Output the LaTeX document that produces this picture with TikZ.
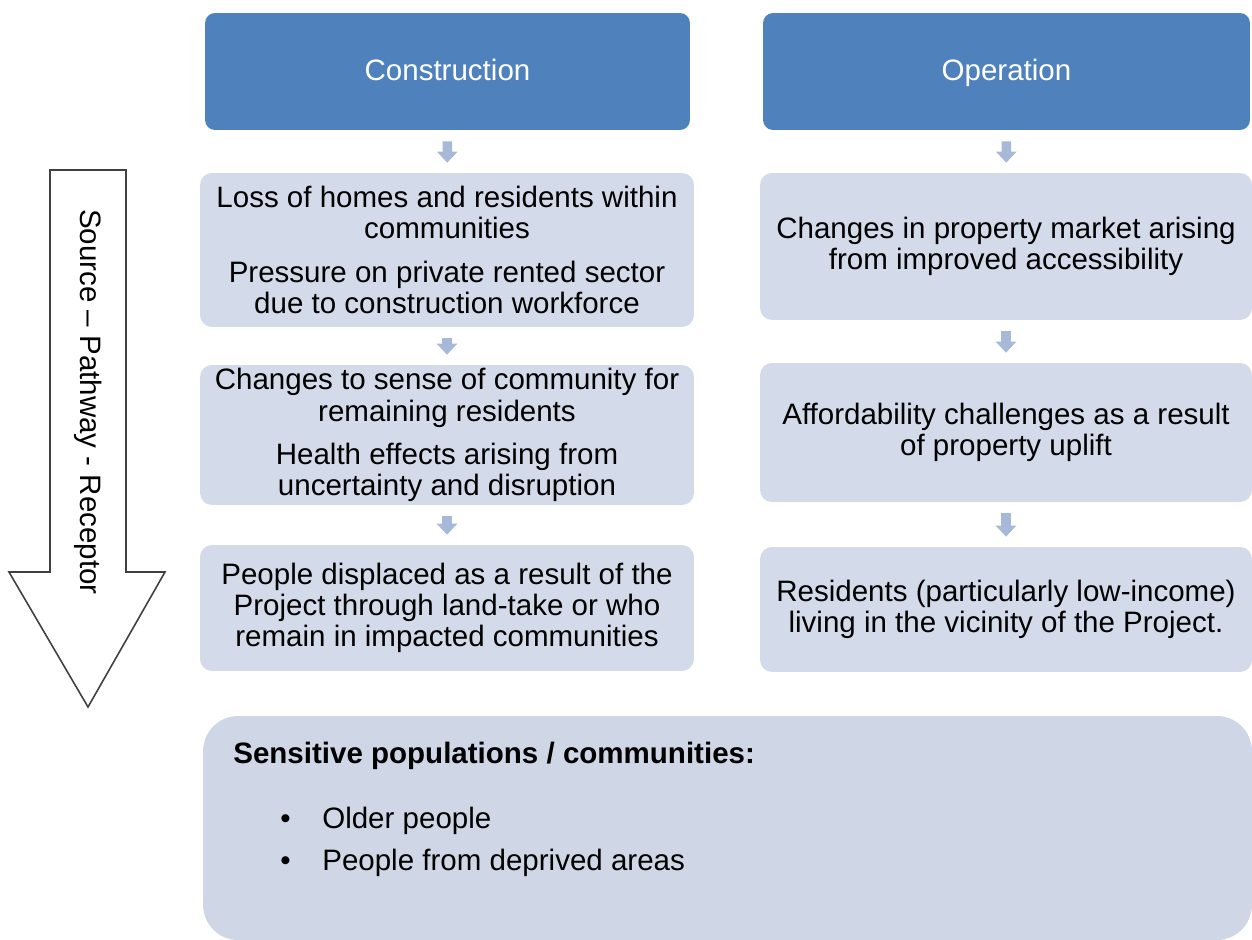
\documentclass[tikz,border=0pt]{standalone}
\usepackage{fontspec}
\setmainfont{Liberation Sans}
\usepackage{tikz}
\usetikzlibrary{arrows.meta,shapes,positioning}
\definecolor{hdrblue}{HTML}{4F81BD}
\definecolor{boxgrey}{HTML}{D3DAE9}
\definecolor{basegrey}{HTML}{CFD6E6}
\definecolor{linkblue}{HTML}{A7B9D8}
\newcommand{\boxfont}{\fontsize{16.8}{17.8}\selectfont}

\begin{document}
\begin{tikzpicture}[x=0.02cm,y=-0.02cm]
    \tikzset{header/.style = {shape=rectangle,fill=hdrblue,rounded corners=0.2cm,text=white,
        minimum height=2.34cm,text height=1em,text depth=0pt,font=\boxfont}}
    \tikzset{effect/.style = {shape=rectangle,fill=boxgrey,rounded corners=0.24cm,
        align=center,inner sep=0pt,font=\boxfont}}
    \tikzset{link/.style = {-{Triangle[width=0.4cm,length=0.22cm]},draw=linkblue,
        line width=0.19cm,shorten <=0.22cm,shorten >=0.2cm}}
    \useasboundingbox (0,0) rectangle (1252,940);
    % phase headers
    \node[header,minimum width=9.7cm] (con) at (447.5,71.5) {Construction};
    \node[header,minimum width=9.74cm] (op) at (1006.5,71.5) {Operation};
    % construction column
    \node[effect,minimum width=9.88cm,minimum height=3.08cm] (c1) at (447,250)
        {Loss of homes and residents within\\ communities\\[6.8pt]
         Pressure on private rented sector\\ due to construction workforce};
    \node[effect,minimum width=9.88cm,minimum height=2.8cm] (c2) at (447,435)
        {Changes to sense of community for\\ remaining residents\\[6.8pt]
         Health effects arising from\\ uncertainty and disruption};
    \node[effect,minimum width=9.88cm,minimum height=2.52cm] (c3) at (447,608)
        {People displaced as a result of the\\ Project through land-take or who\\ remain in impacted communities};
    % operation column
    \node[effect,minimum width=9.84cm,minimum height=2.94cm] (o1) at (1006,246.5)
        {Changes in property market arising\\ from improved accessibility};
    \node[effect,minimum width=9.84cm,minimum height=2.78cm] (o2) at (1006,432.5)
        {Affordability challenges as a result\\ of property uplift};
    \node[effect,minimum width=9.84cm,minimum height=2.5cm] (o3) at (1006,609.5)
        {Residents (particularly low-income)\\ living in the vicinity of the Project.};
    % receptors
    \node[fill=basegrey,rounded corners=0.7cm,minimum width=20.98cm,minimum height=4.48cm,
        inner sep=0pt] (base) at (727.5,828) {};
    \node[anchor=north west,align=left,inner sep=0pt,font=\boxfont] (sens) at (233,742)
        {\textbf{Sensitive populations / communities:}\\[19pt]
         \hspace*{0.94cm}\makebox[0.84cm][l]{\textbullet}Older people\\[6pt]
         \hspace*{0.94cm}\makebox[0.84cm][l]{\textbullet}People from deprived areas};
    % links
    \draw[link] (con) -- (c1);
    \draw[link] (c1) -- (c2);
    \draw[link] (c2) -- (c3);
    \draw[link] (op) -- (o1);
    \draw[link] (o1) -- (o2);
    \draw[link] (o2) -- (o3);
    % source - pathway - receptor arrow
    \draw[draw=black!75,line width=0.9pt,fill=white]
        (50,170) -- (126,170) -- (126,572) -- (165,572) -- (88,707)
        -- (9,572) -- (50,572) -- cycle;
    \node[rotate=-90,font=\boxfont] (spr) at (88,402) {Source \textendash{} Pathway - Receptor};
\end{tikzpicture}
\end{document}
